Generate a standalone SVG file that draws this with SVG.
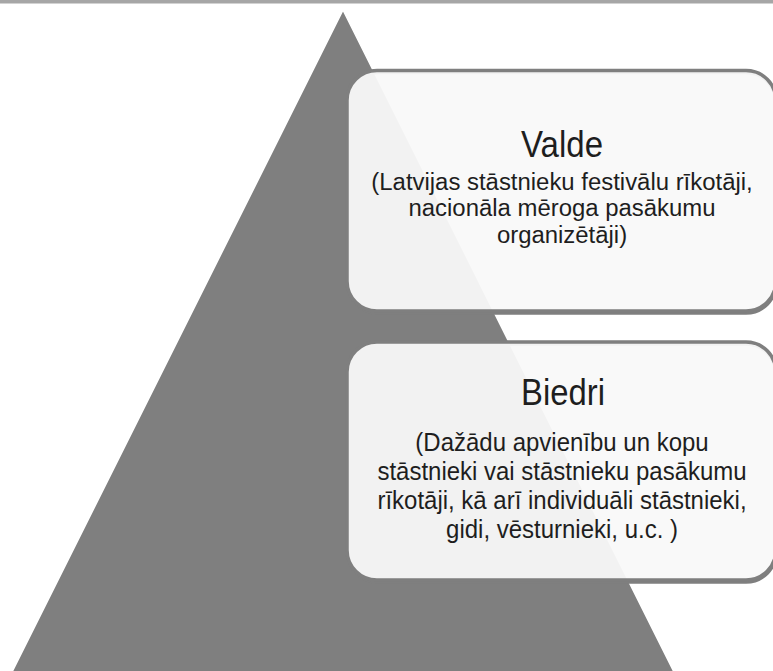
<svg xmlns="http://www.w3.org/2000/svg" width="773" height="671" viewBox="0 0 773 671">
  <style>
    .box { fill: #f9f9f9; fill-opacity: 0.945; stroke: #7f7f7f; stroke-width: 3.5; }
    .shadow { fill: none; stroke: #7f7f7f; stroke-width: 3.5; }
    .title { font-family: "Liberation Sans", Arial, sans-serif; font-size: 36px; fill: #1e1e1e; text-anchor: middle; }
    .sub { font-family: "Liberation Sans", Arial, sans-serif; font-size: 26px; fill: #1e1e1e; text-anchor: middle; }
    .sub2 { font-family: "Liberation Sans", Arial, sans-serif; font-size: 23px; fill: #1e1e1e; text-anchor: middle; }
  </style>
  <rect x="0" y="0" width="773" height="671" fill="#ffffff"/>
  <rect x="0" y="0" width="773" height="3.5" fill="#a6a6a6"/>
  <g id="pyramid">
    <polygon points="343,10 688,700 -2,700" fill="#7f7f7f" stroke="#ffffff" stroke-width="1.5"/>
  </g>
  <g id="connectors"></g>
  <g id="valde">
    <rect class="shadow" x="348" y="72.5" width="428" height="240.5" rx="30"/>
    <rect class="box" x="347" y="70.5" width="429" height="240.5" rx="30"/>
    <text class="title" x="562" y="157" textLength="82" lengthAdjust="spacingAndGlyphs">Valde</text>
    <g transform="translate(562,0) scale(1.04,1)">
      <text class="sub2" x="0" y="190">(Latvijas stāstnieku festivālu rīkotāji,</text>
      <text class="sub2" x="0" y="216.5">nacionāla mēroga pasākumu</text>
      <text class="sub2" x="0" y="243">organizētāji)</text>
    </g>
  </g>
  <g id="biedri">
    <rect class="shadow" x="348" y="344" width="428" height="238" rx="30"/>
    <rect class="box" x="347" y="342" width="429" height="238" rx="30"/>
    <text class="title" x="563" y="405" textLength="84" lengthAdjust="spacingAndGlyphs">Biedri</text>
    <g transform="translate(562,0) scale(0.923,1)">
      <text class="sub" x="0" y="451">(Dažādu apvienību un kopu</text>
      <text class="sub" x="0" y="480">stāstnieki vai stāstnieku pasākumu</text>
      <text class="sub" x="0" y="509">rīkotāji, kā arī individuāli stāstnieki,</text>
      <text class="sub" x="0" y="538">gidi, vēsturnieki, u.c. )</text>
    </g>
  </g>
</svg>
